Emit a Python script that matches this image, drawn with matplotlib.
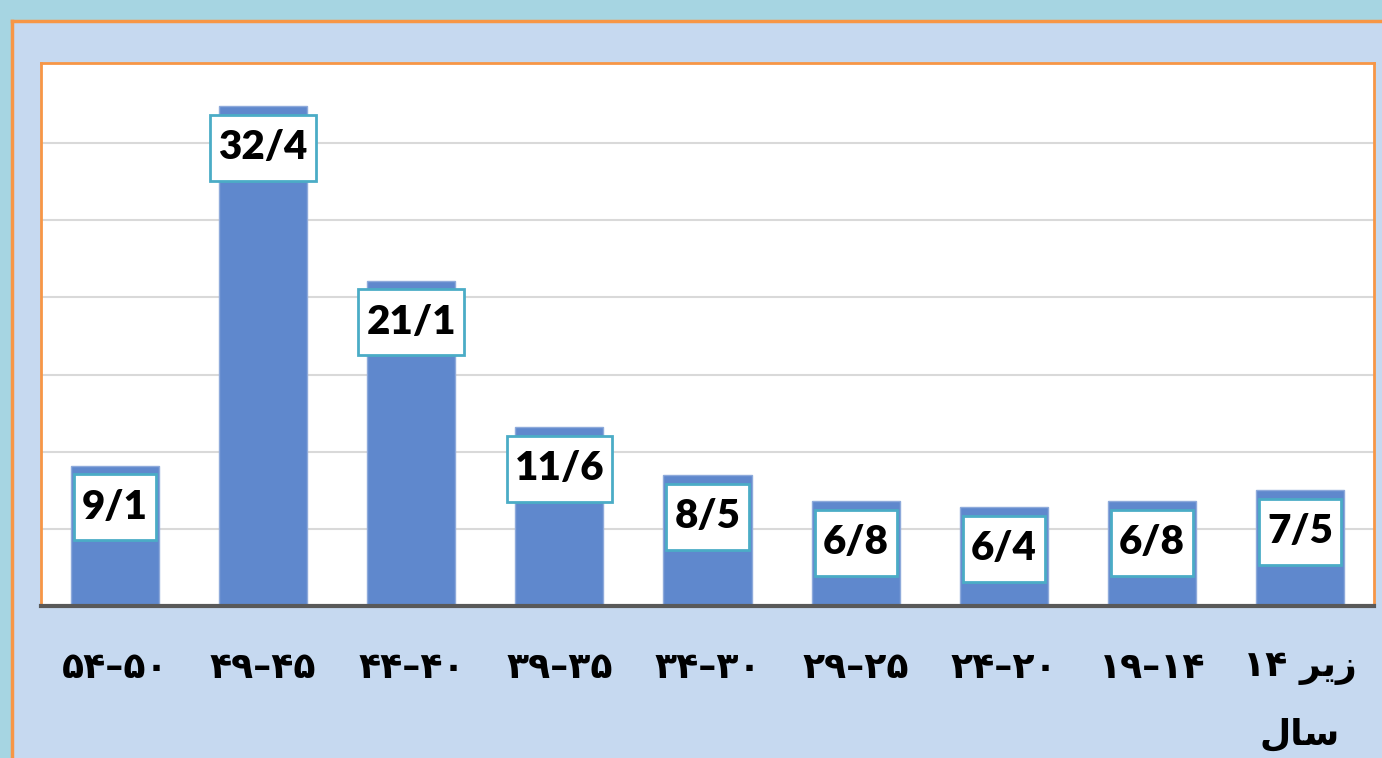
import matplotlib
matplotlib.use("Agg")
import matplotlib.pyplot as plt
from matplotlib.patches import Rectangle
from matplotlib.lines import Line2D
from matplotlib.path import Path

categories = ["۵۴–۵۰", "۴۹–۴۵", "۴۴–۴۰", "۳۹–۳۵", "۳۴–۳۰",
              "۲۹–۲۵", "۲۴–۲۰", "۱۹–۱۴", "۱۴ ﺮﻳﺯ\nﻝﺎﺳ"]
values = [9.1, 32.4, 21.1, 11.6, 8.5, 6.8, 6.4, 6.8, 7.5]
value_labels = ["9/1", "32/4", "21/1", "11/6", "8/5", "6/8", "6/4", "6/8", "7/5"]

W, H = 1382, 758
fig = plt.figure(figsize=(W / 100, H / 100), dpi=100)
fig.patch.set_facecolor("#a6d5e2")

orange = "#f79646"
panel = Rectangle((12 / W, 0), 1 - 12 / W + 0.01, 1 - 21 / H, transform=fig.transFigure,
                  facecolor="#c6d9f0", edgecolor="none", zorder=-3)
fig.patches.append(panel)
fig.lines.append(Line2D([12 / W, 1], [1 - 21 / H, 1 - 21 / H], transform=fig.transFigure,
                        color=orange, lw=2.5, zorder=-2))
fig.lines.append(Line2D([12 / W, 12 / W], [0, 1 - 21 / H], transform=fig.transFigure,
                        color=orange, lw=2.5, zorder=-2))

left, right, top, bottom = 41, 1374, 63, 606
ax = fig.add_axes([left / W, 1 - bottom / H, (right - left) / W, (bottom - top) / H])
ax.set_facecolor("white")

x = list(range(len(values)))
ax.bar(x, values, width=0.595, color="#5f88cd", edgecolor="#8eaadb", linewidth=1, zorder=2)

ax.set_xlim(-0.5, len(values) - 0.5)
ax.set_ylim(0, 35.2)
ax.set_yticks([5, 10, 15, 20, 25, 30])
ax.yaxis.grid(True, color="#d9d9d9", lw=1.5, zorder=0)
ax.set_axisbelow(True)
ax.tick_params(axis="y", left=False, labelleft=False)
ax.tick_params(axis="x", bottom=False, pad=29)
ax.set_xticks(x)
ax.set_xticklabels(categories, fontsize=26, fontweight="bold",
                   family=["DejaVu Sans"], linespacing=2.2, va="top")

for side in ["left", "top", "right"]:
    ax.spines[side].set_color(orange)
    ax.spines[side].set_linewidth(2)
ax.spines["bottom"].set_color("#595959")
ax.spines["bottom"].set_linewidth(3)
ax.spines["bottom"].set_zorder(5)


def label_box(x0, y0, width, height, mutation_size):
    px = 0.2 * mutation_size
    py = 0.36 * mutation_size
    xa, xb = x0 - px, x0 + width + px
    ya, yb = y0 - py, y0 + height + py
    return Path([(xa, ya), (xb, ya), (xb, yb), (xa, yb), (xa, ya)], closed=True)


for xi, v, lab in zip(x, values, value_labels):
    ax.annotate(lab, (xi, v), xytext=(0, -30), textcoords="offset points",
                ha="center", va="center", fontsize=29, fontweight="heavy",
                family=["Lato", "DejaVu Sans"], color="black", zorder=4,
                bbox=dict(boxstyle=label_box, facecolor="white",
                          edgecolor="#4bacc6", linewidth=2))

fig.savefig("out.png", dpi=100, facecolor=fig.get_facecolor())
